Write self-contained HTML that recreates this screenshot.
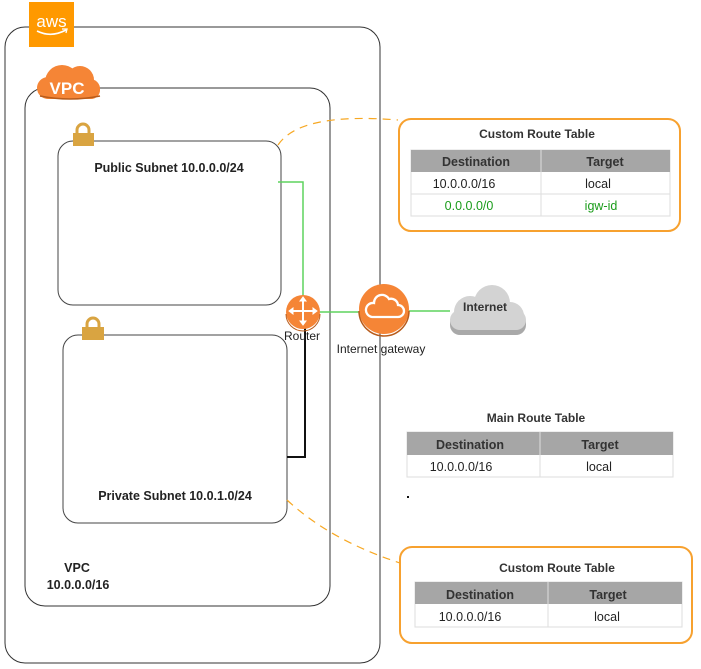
<!DOCTYPE html>
<html><head><meta charset="utf-8"><style>
html,body{margin:0;padding:0;background:#fff;}
svg{display:block;}
text{font-family:"Liberation Sans",Arial,sans-serif;}
</style></head><body>
<svg width="701" height="669" viewBox="0 0 701 669" xmlns="http://www.w3.org/2000/svg">
<rect x="5" y="27" width="375" height="636" rx="20" fill="none" stroke="#333" stroke-width="1"/>
<rect x="29" y="2" width="45" height="45" fill="#f90"/>
<text x="51.5" y="27" font-size="17" fill="#fff" text-anchor="middle">aws</text>
<path d="M37 31 Q51 38 66 30" stroke="#fff" stroke-width="1.6" fill="none"/>
<path d="M62 29 L67 29 L66 33" stroke="#fff" stroke-width="1.3" fill="none"/>
<rect x="25" y="88" width="305" height="518" rx="20" fill="none" stroke="#333" stroke-width="1"/>
<g fill="#f58536">
<circle cx="62" cy="82" r="17"/><circle cx="80" cy="80" r="14"/><circle cx="48" cy="88" r="11"/><circle cx="90" cy="89" r="10"/>
<rect x="40" y="80" width="60" height="19" rx="9"/>
</g>
<path d="M40 96 Q70 102 100 96" stroke="#b85c1c" stroke-width="1.5" fill="none"/>
<text x="67" y="94" font-size="17" font-weight="bold" fill="#fff" text-anchor="middle">VPC</text>
<rect x="58" y="141" width="223" height="164" rx="15" fill="none" stroke="#444"/>
<path d="M77 134 v-4 a6 6 0 0 1 12 0 v4" stroke="#d9a441" stroke-width="3" fill="none"/>
<rect x="73" y="133" width="21" height="13" fill="#d9a441"/>
<text x="169" y="172" font-size="12.5" font-weight="bold" fill="#222" text-anchor="middle">Public Subnet 10.0.0.0/24</text>
<rect x="63" y="335" width="224" height="188" rx="15" fill="none" stroke="#444"/>
<path d="M87 328 v-4 a6 6 0 0 1 12 0 v4" stroke="#d9a441" stroke-width="3" fill="none"/>
<rect x="82" y="327" width="22" height="13" fill="#d9a441"/>
<text x="175" y="500" font-size="12.5" font-weight="bold" fill="#222" text-anchor="middle">Private Subnet 10.0.1.0/24</text>
<text x="77" y="572" font-size="12.5" font-weight="bold" fill="#222" text-anchor="middle">VPC</text>
<text x="78" y="589" font-size="12.5" font-weight="bold" fill="#222" text-anchor="middle">10.0.0.0/16</text>
<path d="M278 182 H303 V300" stroke="#5fd35f" stroke-width="1.5" fill="none"/>
<path d="M320 312 H360 M409 311 H450" stroke="#5fd35f" stroke-width="1.5" fill="none"/>
<path d="M305 325 V457 H287" stroke="#111" stroke-width="2" fill="none"/>
<path d="M278 145 Q300 112 398 120" stroke="#f7a823" stroke-width="1.2" stroke-dasharray="8 6" fill="none"/>
<path d="M287 500 Q330 540 400 563" stroke="#f7a823" stroke-width="1.2" stroke-dasharray="8 6" fill="none"/>
<circle cx="303" cy="312" r="17" fill="#f58536"/>
<path d="M303 312 m-17 2 a17 17 0 0 0 34 0" fill="none" stroke="#b85c1c" stroke-width="1"/>
<g stroke="#fff" stroke-width="2" fill="#fff">
<path d="M291 311 H315 M303 299 V323"/>
<path d="M289 311 l4-3 v6z M317 311 l-4-3 v6z M303 297 l-3 4 h6z M303 325 l-3-4 h6z" stroke-width="1"/>
</g>
<text x="302" y="340" font-size="12" fill="#222" text-anchor="middle">Router</text>
<circle cx="384" cy="309" r="25" fill="#f58536"/>
<path d="M359 311 a25 25 0 0 0 50 0" fill="none" stroke="#b85c1c" stroke-width="1.5"/>
<path d="M372 317 h26 a6 6 0 0 0 0-12 a7 7 0 0 0-9-6 a8 8 0 0 0-15 4 a7 7 0 0 0-2 14z" fill="none" stroke="#fff" stroke-width="2.3"/>
<text x="381" y="353" font-size="12" fill="#222" text-anchor="middle">Internet gateway</text>
<g fill="#a9a9a9" transform="translate(0,3)">
<circle cx="470" cy="312" r="16"/><circle cx="492" cy="303" r="18"/><circle cx="510" cy="316" r="14"/><rect x="450" y="310" width="76" height="22" rx="10"/>
</g>
<g fill="#d3d3d3">
<circle cx="470" cy="312" r="16"/><circle cx="492" cy="303" r="18"/><circle cx="510" cy="316" r="14"/><rect x="450" y="310" width="76" height="20" rx="10"/>
</g>
<text x="485" y="311" font-size="12" font-weight="bold" fill="#333" text-anchor="middle">Internet</text>
<rect x="399" y="119" width="281" height="112" rx="12" fill="none" stroke="#f7a12f" stroke-width="2"/>
<text x="537" y="138" font-size="12" font-weight="bold" fill="#333" text-anchor="middle">Custom Route Table</text>
<rect x="411" y="150" width="259" height="66" fill="#fff" stroke="#ddd"/>
<rect x="411" y="150" width="259" height="22" fill="#a6a6a6"/>
<path d="M411 194 H670 M541 150 V216" stroke="#ddd"/>
<text x="476" y="166" font-size="12.5" font-weight="bold" fill="#333" text-anchor="middle">Destination</text>
<text x="605" y="166" font-size="12.5" font-weight="bold" fill="#333" text-anchor="middle">Target</text>
<text x="464" y="188" font-size="12.5" fill="#222" text-anchor="middle">10.0.0.0/16</text>
<text x="598" y="188" font-size="12.5" fill="#222" text-anchor="middle">local</text>
<text x="469" y="210" font-size="12.5" fill="#1a9c1a" text-anchor="middle">0.0.0.0/0</text>
<text x="601" y="210" font-size="12.5" fill="#1a9c1a" text-anchor="middle">igw-id</text>
<text x="536" y="422" font-size="12" font-weight="bold" fill="#333" text-anchor="middle">Main Route Table</text>
<rect x="407" y="432" width="266" height="45" fill="#fff" stroke="#ddd"/>
<rect x="407" y="432" width="266" height="23" fill="#a6a6a6"/>
<path d="M540 432 V477" stroke="#ddd"/>
<text x="470" y="449" font-size="12.5" font-weight="bold" fill="#333" text-anchor="middle">Destination</text>
<text x="600" y="449" font-size="12.5" font-weight="bold" fill="#333" text-anchor="middle">Target</text>
<text x="461" y="471" font-size="12.5" fill="#222" text-anchor="middle">10.0.0.0/16</text>
<text x="599" y="471" font-size="12.5" fill="#222" text-anchor="middle">local</text>
<rect x="407" y="496" width="2" height="2" fill="#111"/>
<rect x="400" y="547" width="292" height="96" rx="12" fill="none" stroke="#f7a12f" stroke-width="2"/>
<text x="557" y="572" font-size="12" font-weight="bold" fill="#333" text-anchor="middle">Custom Route Table</text>
<rect x="415" y="582" width="267" height="45" fill="#fff" stroke="#ddd"/>
<rect x="415" y="582" width="267" height="22" fill="#a6a6a6"/>
<path d="M548 582 V627" stroke="#ddd"/>
<text x="480" y="599" font-size="12.5" font-weight="bold" fill="#333" text-anchor="middle">Destination</text>
<text x="608" y="599" font-size="12.5" font-weight="bold" fill="#333" text-anchor="middle">Target</text>
<text x="470" y="621" font-size="12.5" fill="#222" text-anchor="middle">10.0.0.0/16</text>
<text x="607" y="621" font-size="12.5" fill="#222" text-anchor="middle">local</text>
</svg>
</body></html>
